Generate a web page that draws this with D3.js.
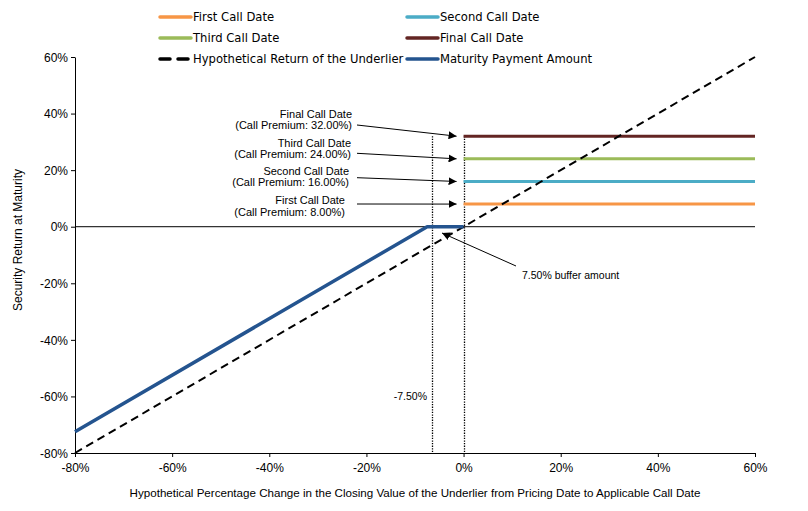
<!DOCTYPE html>
<html>
<head>
<meta charset="utf-8">
<script src="https://cdn.jsdelivr.net/npm/d3@7"></script>
<style>
  body { margin: 0; background: #fff; }
  svg { display: block; }
  .tick text { font-family: "Liberation Sans", Arial, sans-serif; font-size: 12px; fill: #000; }
  .legend text { font-family: "DejaVu Sans", Verdana, sans-serif; font-size: 11.6px; fill: #000; }
  .note { font-family: "Liberation Sans", Arial, sans-serif; font-size: 11px; fill: #000; }
</style>
</head>
<body>
<script>
"use strict";

// underlier change (x) and returns, in percent
var underlierX = [-80, 60];
var underlierY = [-80, 60];
var maturityX = [-80, -7.5, 0];
var maturityY = [-72.5, 0, 0];
var callNames = ["First Call Date", "Second Call Date", "Third Call Date", "Final Call Date"];
var callPremiums = [8, 16, 24, 32];
var callColors = ["#F79646", "#4BACC6", "#9BBB59", "#632523"];
var callStart = 0, callEnd = 60;
var guideX = [-6.5, 0];        // dotted verticals, as placed in the picture
var xTicks = [-80, -60, -40, -20, 0, 20, 40, 60];
var yTicks = [-80, -60, -40, -20, 0, 20, 40, 60];
var blue = "#24548F";

var W = 808, H = 511;
var margin = {top: 57, right: 53, bottom: 58, left: 75};
var gw = W - margin.left - margin.right,
    gh = H - margin.top - margin.bottom;

var svg = d3.select("body").append("svg")
    .attr("width", W).attr("height", H);

svg.append("defs").append("marker")
    .attr("id", "arrow")
    .attr("viewBox", "0 0 10 10")
    .attr("refX", 10).attr("refY", 5)
    .attr("markerWidth", 8).attr("markerHeight", 8)
    .attr("markerUnits", "userSpaceOnUse")
    .attr("orient", "auto")
    .append("path").attr("d", "M0,0L10,5L0,10Z").attr("fill", "#000");

var g = svg.append("g")
    .attr("transform", "translate(" + margin.left + "," + margin.top + ")");

var x = d3.scaleLinear().domain([-80, 60]).range([0, gw]);
var y = d3.scaleLinear().domain([-80, 60]).range([gh, 0]);
var pct = function(d) { return d + "%"; };

// axes
var xAxis = g.append("g")
    .attr("transform", "translate(0," + gh + ")")
    .call(d3.axisBottom(x).tickValues(xTicks).tickFormat(pct).tickSize(4).tickSizeOuter(0));
xAxis.selectAll("text").attr("dy", "1.0em");
var yAxis = g.append("g")
    .call(d3.axisLeft(y).tickValues(yTicks).tickFormat(pct).tickSize(4).tickSizeOuter(0));
yAxis.selectAll("text").attr("dy", "0.35em").attr("x", -7);
g.selectAll(".domain, .tick line").attr("stroke", "#000");

// zero line
g.append("line")
    .attr("x1", 0).attr("x2", gw)
    .attr("y1", y(0)).attr("y2", y(0))
    .attr("stroke", "#000").attr("stroke-width", 1);

// dotted guides
g.selectAll(".guide").data(guideX).enter().append("line")
    .attr("class", "guide")
    .attr("x1", function(d) { return Math.round(x(d)) + 0.5; })
    .attr("x2", function(d) { return Math.round(x(d)) + 0.5; })
    .attr("y1", y(d3.max(callPremiums)))
    .attr("y2", gh)
    .attr("stroke", "#000").attr("stroke-width", 1.3)
    .attr("stroke-dasharray", "1.3,1.3");

// call lines
g.selectAll(".call").data(callPremiums).enter().append("line")
    .attr("class", "call")
    .attr("x1", x(callStart)).attr("x2", x(callEnd))
    .attr("y1", function(d) { return y(d); })
    .attr("y2", function(d) { return y(d); })
    .attr("stroke", function(d, i) { return callColors[i]; })
    .attr("stroke-width", 3);

var line = d3.line()
    .x(function(d) { return x(d[0]); })
    .y(function(d) { return y(d[1]); });

g.append("path")
    .datum(d3.zip(underlierX, underlierY))
    .attr("d", line)
    .attr("fill", "none").attr("stroke", "#000")
    .attr("stroke-width", 2).attr("stroke-dasharray", "8,5");

g.append("path")
    .datum(d3.zip(maturityX, maturityY))
    .attr("d", line)
    .attr("fill", "none").attr("stroke", blue)
    .attr("stroke-width", 3.5).attr("stroke-linejoin", "round");

// call annotations (page pixels)
var notes = [
    {right: 345, y1: 204, y2: 215.5, from: 204},
    {right: 349, y1: 174.5, y2: 185.5, from: 177.7},
    {right: 351, y1: 146.5, y2: 158, from: 153.3},
    {right: 352, y1: 118, y2: 129, from: 125}
];
callPremiums.forEach(function(p, i) {
    var n = notes[i];
    svg.append("line")
        .attr("x1", 357).attr("y1", n.from)
        .attr("x2", margin.left + x(0) - 7).attr("y2", margin.top + y(p))
        .attr("stroke", "#000").attr("stroke-width", 1)
        .attr("marker-end", "url(#arrow)");
    var t = svg.append("text").attr("class", "note").attr("text-anchor", "end");
    t.append("tspan").attr("x", n.right).attr("y", n.y1).text(callNames[i]);
    t.append("tspan").attr("x", n.right).attr("y", n.y2)
        .text("(Call Premium: " + p.toFixed(2) + "%)");
});

// buffer annotation
svg.append("line")
    .attr("x1", 516).attr("y1", 266)
    .attr("x2", 442).attr("y2", 233)
    .attr("stroke", "#000").attr("stroke-width", 1)
    .attr("marker-end", "url(#arrow)");
svg.append("text").attr("class", "note")
    .style("font-size", "10.5px")
    .attr("x", 522).attr("y", 279).text("7.50% buffer amount");
svg.append("text").attr("class", "note")
    .style("font-size", "10.5px")
    .attr("text-anchor", "end")
    .attr("x", 427).attr("y", 400)
    .text("-7.50%");

// axis titles
svg.append("text")
    .attr("x", 415).attr("y", 497)
    .attr("text-anchor", "middle")
    .style("font-family", "'Liberation Sans', Arial, sans-serif")
    .style("font-size", "11.6px")
    .text("Hypothetical Percentage Change in the Closing Value of the Underlier from Pricing Date to Applicable Call Date");
svg.append("text")
    .attr("transform", "translate(22,240) rotate(-90)")
    .attr("text-anchor", "middle")
    .style("font-family", "'Liberation Sans', Arial, sans-serif")
    .style("font-size", "12px")
    .text("Security Return at Maturity");

// legend
var legendItems = [
    {name: "First Call Date", color: callColors[0], dash: null},
    {name: "Second Call Date", color: callColors[1], dash: null},
    {name: "Third Call Date", color: callColors[2], dash: null},
    {name: "Final Call Date", color: callColors[3], dash: null},
    {name: "Hypothetical Return of the Underlier", color: "#000", dash: "10,8"},
    {name: "Maturity Payment Amount", color: blue, dash: null}
];
var legend = svg.append("g").attr("class", "legend");
var item = legend.selectAll("g").data(legendItems).enter().append("g")
    .attr("transform", function(d, i) {
        return "translate(" + (i % 2 ? 407 : 160) + "," + (17 + Math.floor(i / 2) * 21) + ")";
    });
item.append("line")
    .attr("x1", 0).attr("x2", 31)
    .attr("stroke", function(d) { return d.color; })
    .attr("stroke-width", 3.5)
    .attr("stroke-linecap", "round")
    .attr("stroke-dasharray", function(d) { return d.dash; });
item.append("text")
    .attr("x", 33).attr("dy", "0.35em")
    .text(function(d) { return d.name; });
</script>
</body>
</html>
